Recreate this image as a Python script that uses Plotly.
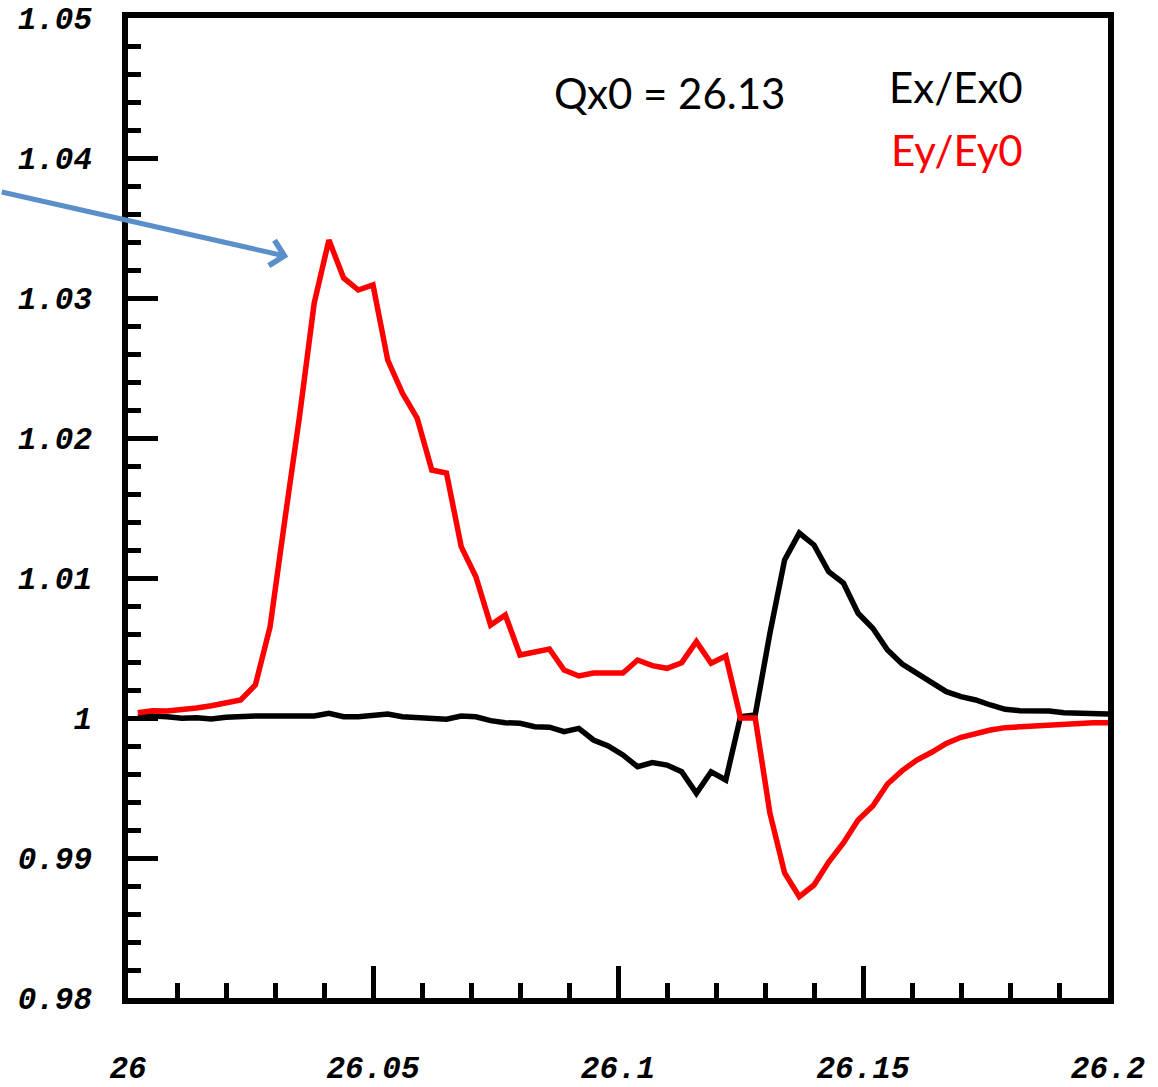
import plotly.graph_objects as go

# Tune values (Qx), uniform scan
qx = [round(26.002 + 0.003 * k, 3) for k in range(67)]

ex_ratio = [
    1.00009, 1.00014, 1.00009, 0.99998, 1.00002, 0.99993, 1.00005, 1.00014, 1.00014, 1.00014,
    1.00014, 1.00014, 1.00014, 1.00034, 1.00009, 1.00009, 1.00016, 1.00029, 1.00009, 1.00005,
    1.00002, 0.99991, 1.00014, 1.00009, 0.99981, 0.99966, 0.99962, 0.99938, 0.99934, 0.99902,
    0.99926, 0.99843, 0.99800, 0.99736, 0.99652, 0.99681, 0.99664, 0.99616, 0.99462, 0.99616,
    0.99557, 1.00009, 1.00021, 1.00605, 1.01129, 1.01321, 1.01236, 1.01045, 1.00964, 1.00748,
    1.00641, 1.00486, 1.00386, 1.00319, 1.00252, 1.00188, 1.00152, 1.00129, 1.00093, 1.00062,
    1.00052, 1.00052, 1.00050, 1.00038, 1.00034, 1.00031, 1.00029,
]

ey_ratio = [
    1.00038, 1.00052, 1.00050, 1.00057, 1.00071, 1.00088, 1.00105, 1.00129, 1.00236, 1.00652,
    1.01414, 1.02152, 1.02964, 1.03414, 1.03143, 1.03057, 1.03093, 1.02557, 1.02321, 1.02143,
    1.01771, 1.01750, 1.01224, 1.01009, 1.00664, 1.00736, 1.00450, 1.00474, 1.00493, 1.00343,
    1.00300, 1.00321, 1.00321, 1.00321, 1.00414, 1.00374, 1.00355, 1.00395, 1.00545, 1.00391,
    1.00443, 1.00000, 1.00000, 0.99321, 0.98893, 0.98724, 0.98807, 0.98971, 0.99107, 0.99271,
    0.99371, 0.99529, 0.99624, 0.99700, 0.99755, 0.99819, 0.99862, 0.99891, 0.99914, 0.99931,
    0.99938, 0.99938, 0.99945, 0.99957, 0.99962, 0.99966, 0.99966,
]

x_tickvals = [26, 26.05, 26.1, 26.15, 26.2]
x_ticktext = ["26", "26.05", "26.1", "26.15", "26.2"]
y_tickvals = [0.98, 0.99, 1.0, 1.01, 1.02, 1.03, 1.04, 1.05]
y_ticktext = ["0.98", "0.99", "1", "1.01", "1.02", "1.03", "1.04", "1.05"]

fig = go.Figure()
fig.add_trace(go.Scatter(x=qx, y=ex_ratio, mode="lines", name="Ex/Ex0",
                         line=dict(color="black", width=5.5)))
fig.add_trace(go.Scatter(x=qx, y=ey_ratio, mode="lines", name="Ey/Ey0",
                         line=dict(color="#FF0000", width=5.5)))

tickfont = dict(family="Liberation Mono", size=31, color="black",
                weight="bold", style="italic")

fig.update_layout(
    width=1158, height=1087,
    margin=dict(l=128, r=50, t=18, b=89, autoexpand=False),
    paper_bgcolor="white", plot_bgcolor="white",
    showlegend=False,
    xaxis=dict(
        range=[26, 26.2], showgrid=False, zeroline=False, automargin=False,
        showline=True, linecolor="black", linewidth=5.5, mirror=True,
        ticks="inside", ticklen=32, tickwidth=5, tickcolor="black",
        tickvals=x_tickvals, ticktext=x_ticktext, tickfont=tickfont,
        ticklabelstandoff=37,
        minor=dict(ticks="inside", ticklen=15, tickwidth=5, tickcolor="black",
                   dtick=0.01, tick0=26, showgrid=False),
    ),
    yaxis=dict(
        range=[0.98, 1.05], showgrid=False, zeroline=False, automargin=False,
        showline=True, linecolor="black", linewidth=5.5, mirror=True,
        ticks="inside", ticklen=30, tickwidth=5, tickcolor="black",
        tickvals=y_tickvals, ticktext=y_ticktext, tickfont=tickfont,
        ticklabelstandoff=24,
        minor=dict(ticks="inside", ticklen=13, tickwidth=5, tickcolor="black",
                   dtick=0.002, tick0=0.98, showgrid=False),
    ),
)

txtfont = "Lato"
fig.add_annotation(text="Qx0 = 26.13", xref="paper", yref="paper",
                   x=0.553, y=0.9235, xanchor="center", yanchor="middle",
                   showarrow=False, font=dict(family=txtfont, size=42, color="black"))
fig.add_annotation(text="Ex/Ex0", xref="paper", yref="paper",
                   x=0.9153, y=0.9296, xanchor="right", yanchor="middle",
                   showarrow=False, font=dict(family=txtfont, size=42, color="black"))
fig.add_annotation(text="Ey/Ey0", xref="paper", yref="paper",
                   x=0.9153, y=0.8653, xanchor="right", yanchor="middle",
                   showarrow=False, font=dict(family=txtfont, size=42, color="#FF0000"))

# Pointer arrow to the Ey peak
fig.add_annotation(text="", x=26.0327, y=1.03295, xref="x", yref="y",
                   ax=-288, ay=-65, showarrow=True, arrowhead=4, arrowsize=1.0,
                   arrowwidth=5, arrowcolor="#5B8FC9", standoff=0)

fig.write_html("out.html")
